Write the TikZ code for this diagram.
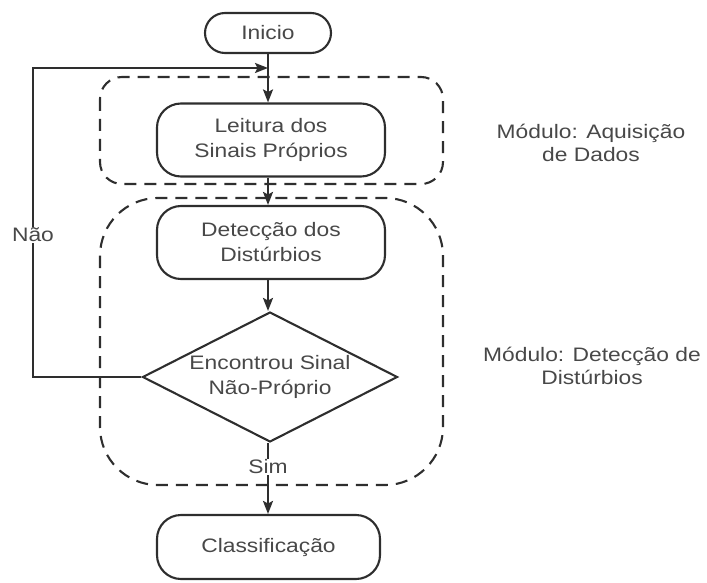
\documentclass[tikz,border=0pt]{standalone}
\usepackage{fontspec}
\setmainfont{Liberation Sans}[FakeStretch=1.17]
\usetikzlibrary{arrows.meta,shapes.geometric}
\definecolor{inkline}{HTML}{2E2E2E}
\definecolor{inktext}{HTML}{484848}
\tikzset{
  base/.style={draw=inkline, line width=2.1pt, text=inktext, font=\fontsize{19.5}{25}\selectfont, align=center, inner sep=0pt},
  terminal/.style={base, rounded corners=20pt, minimum width=126pt, minimum height=40pt},
  process/.style={base, rounded corners=24pt, minimum width=228pt, minimum height=73pt},
  decision/.style={base, diamond, aspect=1.96, minimum width=255pt, minimum height=130pt},
  flow/.style={draw=inkline, line width=2.1pt, -{Stealth[length=13pt,width=10pt,inset=2.5pt]}},
  plain/.style={draw=inkline, line width=2.1pt},
  group/.style={draw=inkline, line width=2.1pt, dash pattern=on 12pt off 8pt},
  lbl/.style={text=inktext, font=\fontsize{19.5}{23}\selectfont, align=center, inner sep=1pt},
}
\begin{document}
\begin{tikzpicture}[x=1pt,y=-1pt]
  \useasboundingbox (0,0) rectangle (707,583);

  % module groups
  \draw[group, rounded corners=22pt] (100,77) rectangle (443,184);
  \draw[group, rounded corners=58pt] (100,198) rectangle (443,485);

  % flow nodes
  \node[terminal] (ini) at (268,33) {Inicio};
  \node[process] (lei) at (271,140) {Leitura dos\\Sinais Próprios};
  \node[process] (det) at (271,242.5) {Detecção dos\\Distúrbios};
  \node[decision] (dec) at (270,377) {Encontrou Sinal\\Não-Próprio};
  \node[process, minimum width=223pt, minimum height=64pt] (cls) at (268.5,547) {Classificação};

  % branch labels
  \node[lbl, fill=white] (nao) at (33,235) {Não};
  \node[lbl] (sim) at (268,467) {Sim};

  % module labels
  \node[lbl] (modA) at (591,143) {Módulo: Aquisição\\de Dados};
  \node[lbl] (modB) at (592,366) {Módulo: Detecção de\\Distúrbios};

  % connectors
  \coordinate (join) at (268,68);
  \coordinate (loopB) at (33,377);
  \coordinate (loopT) at (33,68);
  \draw[flow] (ini.south -| join) -- (lei.north -| join);
  \draw[flow] (lei.south -| join) -- (det.north -| join);
  \draw[flow] (det.south -| join) -- (dec.north -| join);
  \draw[plain] (dec.south -| join) -- (sim.north -| join);
  \draw[flow] (sim.south -| join) -- (cls.north -| join);
  \draw[plain] (dec.west) -- (loopB) -- (nao.south);
  \draw[flow] (nao.north) -- (loopT) -- (join);
\end{tikzpicture}
\end{document}
